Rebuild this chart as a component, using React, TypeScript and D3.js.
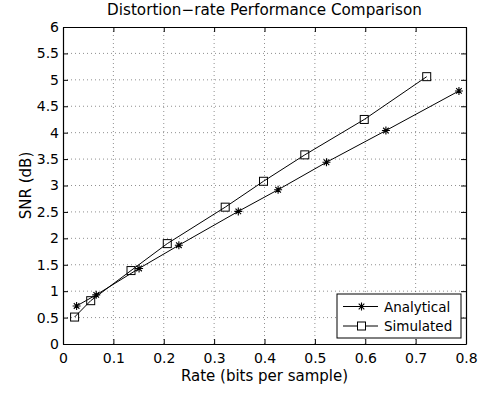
import React, { useEffect, useRef } from "react";
import * as d3 from "d3";

const analyticalRate = [0.027, 0.066, 0.151, 0.23, 0.348, 0.427, 0.523, 0.641, 0.786];
const analyticalSnr = [0.72, 0.93, 1.43, 1.87, 2.51, 2.92, 3.44, 4.04, 4.79];
const simulatedRate = [0.023, 0.055, 0.135, 0.207, 0.322, 0.398, 0.48, 0.598, 0.722];
const simulatedSnr = [0.51, 0.82, 1.39, 1.9, 2.59, 3.08, 3.58, 4.25, 5.06];
const xTicks = [0, 0.1, 0.2, 0.3, 0.4, 0.5, 0.6, 0.7, 0.8];
const yTicks = [0, 0.5, 1, 1.5, 2, 2.5, 3, 3.5, 4, 4.5, 5, 5.5, 6];

const W = 481, H = 394;
const margin = { top: 27, right: 15, bottom: 50, left: 63 };
const width = W - margin.left - margin.right;
const height = H - margin.top - margin.bottom;
const font = "'DejaVu Sans', sans-serif";

const asterisk = (r: number) =>
  `M${-r},0L${r},0M0,${-r}L0,${r}M${-r * 0.7},${-r * 0.7}L${r * 0.7},${r * 0.7}M${-r * 0.7},${r * 0.7}L${r * 0.7},${-r * 0.7}`;

export default function App() {
  const ref = useRef<SVGSVGElement>(null);

  useEffect(() => {
    const root = d3.select(ref.current);
    root.selectAll("*").remove();
    root.append("rect").attr("width", W).attr("height", H).attr("fill", "#fff");

    const svg = root.append("g").attr("transform", `translate(${margin.left},${margin.top})`);

    const x = d3.scaleLinear().domain([0, 0.8]).range([0, width]);
    const y = d3.scaleLinear().domain([0, 6]).range([height, 0]);

    // grid
    svg.selectAll(".gx").data(xTicks.slice(1, -1)).enter().append("line")
      .attr("x1", d => x(d)).attr("x2", d => x(d)).attr("y1", 0).attr("y2", height)
      .attr("stroke", "#444").attr("stroke-width", 0.6).attr("stroke-dasharray", "1,3");
    svg.selectAll(".gy").data(yTicks.slice(1, -1)).enter().append("line")
      .attr("y1", d => y(d)).attr("y2", d => y(d)).attr("x1", 0).attr("x2", width)
      .attr("stroke", "#444").attr("stroke-width", 0.6).attr("stroke-dasharray", "1,3");

    // axes (ticks inward, box on)
    const tl = 5;
    const xb = svg.append("g").attr("transform", `translate(0,${height})`)
      .call(d3.axisBottom(x).tickValues(xTicks).tickSizeInner(-tl).tickSizeOuter(0).tickPadding(9).tickFormat(d3.format("")));
    const yl = svg.append("g")
      .call(d3.axisLeft(y).tickValues(yTicks).tickSizeInner(-tl).tickSizeOuter(0).tickPadding(4).tickFormat(d3.format("")));
    svg.append("g")
      .call(d3.axisTop(x).tickValues(xTicks).tickSizeInner(-tl).tickSizeOuter(0).tickFormat(() => ""));
    svg.append("g").attr("transform", `translate(${width},0)`)
      .call(d3.axisRight(y).tickValues(yTicks).tickSizeInner(-tl).tickSizeOuter(0).tickFormat(() => ""));
    svg.selectAll(".domain").attr("stroke", "#000").attr("stroke-width", 1.2);
    svg.selectAll(".tick line").attr("stroke", "#000");
    [xb, yl].forEach(g => g.selectAll("text")
      .style("font-family", font).style("font-size", "14px").attr("fill", "#000"));

    // series
    const line = d3.line<[number, number]>().x(d => x(d[0])).y(d => y(d[1]));
    const aData = analyticalRate.map((r, i) => [r, analyticalSnr[i]] as [number, number]);
    const sData = simulatedRate.map((r, i) => [r, simulatedSnr[i]] as [number, number]);

    svg.append("path").attr("d", line(aData)).attr("fill", "none").attr("stroke", "#000").attr("stroke-width", 1);
    svg.append("path").attr("d", line(sData)).attr("fill", "none").attr("stroke", "#000").attr("stroke-width", 1);

    svg.selectAll(".am").data(aData).enter().append("path")
      .attr("transform", d => `translate(${x(d[0])},${y(d[1])})`)
      .attr("d", asterisk(4)).attr("stroke", "#000").attr("stroke-width", 1.1).attr("fill", "none");
    svg.selectAll(".sm").data(sData).enter().append("rect")
      .attr("x", d => x(d[0]) - 4).attr("y", d => y(d[1]) - 4)
      .attr("width", 8).attr("height", 8)
      .attr("fill", "none").attr("stroke", "#000").attr("stroke-width", 1);

    // legend
    const lg = svg.append("g").attr("transform", `translate(${337 - margin.left},${294 - margin.top})`);
    lg.append("rect").attr("width", 124).attr("height", 44)
      .attr("fill", "#fff").attr("stroke", "#000").attr("stroke-width", 1);
    const items = [{ name: "Analytical", sym: "a" }, { name: "Simulated", sym: "s" }];
    items.forEach((it, i) => {
      const cy = 12.5 + i * 19.5;
      lg.append("line").attr("x1", 6).attr("x2", 41).attr("y1", cy).attr("y2", cy)
        .attr("stroke", "#000").attr("stroke-width", 1);
      if (it.sym === "a") {
        lg.append("path").attr("transform", `translate(24.5,${cy})`).attr("d", asterisk(4))
          .attr("stroke", "#000").attr("stroke-width", 1.1);
      } else {
        lg.append("rect").attr("x", 20.5).attr("y", cy - 4).attr("width", 8).attr("height", 8)
          .attr("fill", "#fff").attr("stroke", "#000");
      }
      lg.append("text").attr("x", 47).attr("y", cy + 5).text(it.name)
        .style("font-family", font).style("font-size", "13.5px").attr("fill", "#000");
    });

    // titles
    root.append("text").attr("x", margin.left + width / 2).attr("y", 15)
      .attr("text-anchor", "middle").text("Distortion\u2212rate Performance Comparison")
      .style("font-family", font).style("font-size", "15.2px");
    root.append("text").attr("x", margin.left + width / 2).attr("y", 381)
      .attr("text-anchor", "middle").text("Rate (bits per sample)")
      .style("font-family", font).style("font-size", "15px");
    root.append("text").attr("transform", `translate(31,${margin.top + height / 2}) rotate(-90)`)
      .attr("text-anchor", "middle").text("SNR (dB)")
      .style("font-family", font).style("font-size", "15px");
  }, []);

  return (
    <svg ref={ref} width={W} height={H} style={{ position: "absolute", left: 0, top: 0 }} />
  );
}
